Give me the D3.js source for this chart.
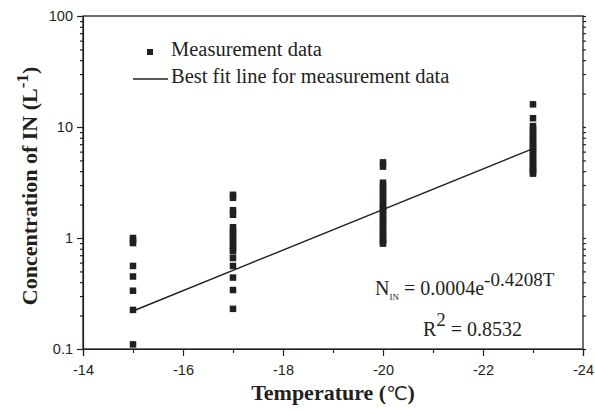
<!DOCTYPE html>
<html>
<head>
<meta charset="utf-8">
<script src="https://cdn.jsdelivr.net/npm/d3@7"></script>
<style>
  body { margin: 0; background: #fff; }
  svg { display: block; }
</style>
</head>
<body>
<div id="chart"></div>
<script>
{
// measured IN concentrations (L^-1) at each temperature
const temps = [-15, -17, -20, -23];
const conc15 = [1.0, 0.95, 0.9, 0.56, 0.45, 0.335, 0.225, 0.11];
const conc17 = [2.45, 2.3, 1.78, 1.62, 1.25, 1.18, 1.1, 1.03, 0.97, 0.91, 0.85, 0.8, 0.76, 0.66, 0.56, 0.44, 0.34, 0.23];
const conc20 = [4.8, 4.4, 3.15, 2.95, 2.75, 2.6, 2.45, 2.3, 2.15, 2.0, 1.9, 1.8, 1.7, 1.6, 1.5, 1.42, 1.35, 1.28, 1.2, 1.13, 1.07, 1.01, 0.96, 0.92, 0.89];
const conc23 = [16, 12, 10.2, 9.6, 9.0, 8.5, 8.0, 7.6, 7.2, 6.8, 6.5, 6.2, 5.9, 5.6, 5.3, 5.0, 4.75, 4.5, 4.3, 4.1, 3.95, 3.8];

// best fit line end points
const fitT = [-15, -23];
const fitN = [0.22, 6.39];

const xTicks = [-14, -16, -18, -20, -22, -24];
const xMinor = [-15, -17, -19, -21, -23];
const yTicks = [0.1, 1, 10, 100];

const W = 595, H = 411;
const m = {top: 16, right: 12, bottom: 62, left: 83};
const ink = "#231f20";
const serif = "'Liberation Serif', 'Times New Roman', serif";
const sans = "'Liberation Sans', Arial, sans-serif";

const svg = d3.select("#chart").append("svg")
    .attr("width", W)
    .attr("height", H);

const x = d3.scaleLinear().domain([-14, -24]).range([m.left, W - m.right]);
const y = d3.scaleLog().domain([0.1, 100]).range([H - m.bottom, m.top]);

const points = [];
[conc15, conc17, conc20, conc23].forEach((arr, i) => {
    arr.forEach(v => points.push({t: temps[i], n: v}));
});

// minor log ticks
const yMinor = y.ticks().filter(d => yTicks.indexOf(d) < 0);

// bottom axis
svg.append("g")
    .attr("transform", `translate(0,${H - m.bottom})`)
    .call(d3.axisBottom(x).tickValues(xTicks).tickSize(7).tickPadding(9)
        .tickFormat(d => String(d)));
svg.append("g")
    .attr("transform", `translate(0,${H - m.bottom})`)
    .call(d3.axisBottom(x).tickValues(xMinor).tickSize(4).tickFormat(""))
    .call(g => g.select(".domain").remove());

// left axis
svg.append("g")
    .attr("transform", `translate(${m.left},0)`)
    .call(d3.axisLeft(y).tickValues(yTicks).tickSize(6).tickPadding(4)
        .tickFormat(d => String(d)));
svg.append("g")
    .attr("transform", `translate(${m.left},0)`)
    .call(d3.axisLeft(y).tickValues(yMinor).tickSize(3).tickFormat(""))
    .call(g => g.select(".domain").remove());

// right axis, ticks only
svg.append("g")
    .attr("transform", `translate(${W - m.right},0)`)
    .call(d3.axisRight(y).tickValues(yTicks.concat(yMinor)).tickSize(3).tickFormat(""))
    .call(g => g.select(".domain").remove());

// frame
svg.append("rect")
    .attr("x", m.left)
    .attr("y", m.top)
    .attr("width", W - m.left - m.right)
    .attr("height", H - m.top - m.bottom)
    .attr("fill", "none")
    .attr("stroke", ink)
    .attr("stroke-width", 1.3);

svg.selectAll(".domain, .tick line")
    .attr("stroke", ink)
    .attr("stroke-width", 1.2);
svg.selectAll(".tick text")
    .attr("fill", ink)
    .style("font-family", sans)
    .style("font-size", "14.5px");

// data squares
const sq = 6.5;
svg.append("g").selectAll("rect")
    .data(points)
    .join("rect")
    .attr("x", d => x(d.t) - sq / 2)
    .attr("y", d => y(d.n) - sq / 2)
    .attr("width", sq)
    .attr("height", sq)
    .attr("fill", ink);

// fit line
const line = d3.line()
    .x(d => x(d[0]))
    .y(d => y(d[1]));
svg.append("path")
    .datum(fitT.map((t, i) => [t, fitN[i]]))
    .attr("d", line)
    .attr("fill", "none")
    .attr("stroke", ink)
    .attr("stroke-width", 1.4);

// legend
svg.append("rect")
    .attr("x", 150 - 3).attr("y", 52 - 3)
    .attr("width", 6).attr("height", 6)
    .attr("fill", ink);
svg.append("line")
    .attr("x1", 133).attr("x2", 168)
    .attr("y1", 79).attr("y2", 79)
    .attr("stroke", ink)
    .attr("stroke-width", 1.4);
svg.append("text")
    .attr("x", 171).attr("y", 56)
    .style("font-family", serif).style("font-size", "20.5px")
    .attr("fill", ink)
    .text("Measurement data");
svg.append("text")
    .attr("x", 171).attr("y", 83)
    .style("font-family", serif).style("font-size", "20.5px")
    .attr("fill", ink)
    .text("Best fit line for measurement data");

// equation
const eq = svg.append("text")
    .attr("x", 375).attr("y", 295)
    .style("font-family", serif).style("font-size", "20px")
    .attr("fill", ink);
eq.append("tspan").text("N");
eq.append("tspan").attr("dy", 5).style("font-size", "9px").text("IN");
eq.append("tspan").attr("dy", -5).text(" = 0.0004e");
eq.append("tspan").attr("dy", -9).style("font-size", "19px").text("-0.4208T");

const r2 = svg.append("text")
    .attr("x", 423).attr("y", 336)
    .style("font-family", serif).style("font-size", "20px")
    .attr("fill", ink);
r2.append("tspan").text("R");
r2.append("tspan").attr("dy", -10).style("font-size", "19px").text("2");
r2.append("tspan").attr("dy", 10).text(" = 0.8532");

// axis titles
const xt = svg.append("text")
    .attr("x", 333).attr("y", 400)
    .attr("text-anchor", "middle")
    .style("font-family", serif).style("font-size", "22px").style("font-weight", "bold")
    .attr("fill", ink);
xt.append("tspan").text("Temperature (");
xt.append("tspan").style("font-weight", "normal").style("font-family", "'DejaVu Sans', sans-serif")
    .style("font-size", "19px").text("\u2103");
xt.append("tspan").text(")");

const yt = svg.append("text")
    .attr("transform", "translate(37,186) rotate(-90)")
    .attr("text-anchor", "middle")
    .style("font-family", serif).style("font-size", "22px").style("font-weight", "bold")
    .attr("fill", ink);
yt.append("tspan").text("Concentration of IN (L");
yt.append("tspan").attr("dy", -9).style("font-size", "17px").text("-1");
yt.append("tspan").attr("dy", 9).text(")");
}
</script>
</body>
</html>
